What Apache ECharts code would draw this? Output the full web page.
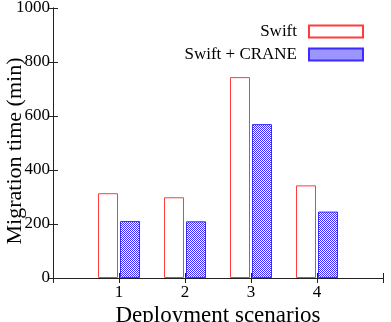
<!DOCTYPE html>
<html>
<head>
<meta charset="utf-8">
<script src="https://cdn.jsdelivr.net/npm/echarts@6/dist/echarts.min.js"></script>
<style>
  html, body { margin: 0; padding: 0; background: #fff; }
  #chart { width: 391px; height: 322px; }
</style>
</head>
<body>
<div id="chart"></div>
<script>
// data
const scenarios = [1, 2, 3, 4]
const swift = [314, 299, 744, 343]
const swiftCrane = [211, 210, 570, 246]
const yTicks = [0, 200, 400, 600, 800, 1000]

const font = 'Liberation Serif'

// crosshatch fill for the CRANE bars
function hatch() {
  const c = document.createElement('canvas')
  c.width = 4
  c.height = 4
  const ctx = c.getContext('2d')
  ctx.fillStyle = '#ffffff'
  ctx.fillRect(0, 0, 4, 4)
  ctx.fillStyle = '#3a2aff'
  for (let x = 0; x < 4; x++) {
    for (let y = 0; y < 4; y++) {
      // two diagonals crossing
      if ((x + y) % 4 === 0 || (x - y + 4) % 4 === 0 || (x + y) % 4 === 2) ctx.fillRect(x, y, 1, 1)
    }
  }
  return c
}

const chart = echarts.init(document.getElementById('chart'))

const tickStyle = { show: true, inside: true, length: 5, lineStyle: { color: '#222' } }
const lineStyle = { show: true, lineStyle: { color: '#222', width: 1 } }
const legendText = { fontFamily: font, fontSize: 17, color: '#000', padding: [0, 7, 0, 0] }

chart.setOption({
  animation: false,
  textStyle: { fontFamily: font },
  grid: { left: 53, right: 8, top: 8, bottom: 44, outerBoundsMode: 'none', containLabel: false },
  legend: [
    {
      data: ['Swift'],
      right: 22, top: 18,
      align: 'right', icon: 'rect',
      itemWidth: 54, itemHeight: 12,
      textStyle: legendText
    },
    {
      data: ['Swift + CRANE'],
      right: 22, top: 41,
      align: 'right', icon: 'rect',
      itemWidth: 54, itemHeight: 12,
      textStyle: legendText
    }
  ],
  xAxis: [
    {
      type: 'value', min: 0, max: 5, interval: 1,
      name: 'Deployment scenarios', nameLocation: 'middle', nameGap: 26, nameMoveOverlap: false,
      nameTextStyle: { fontFamily: font, fontSize: 23, color: '#000' },
      axisLine: lineStyle, axisTick: tickStyle, splitLine: { show: false },
      axisLabel: {
        fontFamily: font, fontSize: 17, color: '#000', margin: 6,
        formatter: v => (scenarios.indexOf(v) >= 0 ? String(v) : '')
      }
    },
    {
      type: 'value', position: 'top', min: 0, max: 5, interval: 1,
      axisLine: lineStyle, axisTick: tickStyle, splitLine: { show: false },
      axisLabel: { show: false }
    }
  ],
  yAxis: [
    {
      type: 'value', min: yTicks[0], max: yTicks[yTicks.length - 1], interval: 200,
      name: 'Migration time (min)', nameLocation: 'middle', nameGap: 27, nameMoveOverlap: false,
      nameTextStyle: { fontFamily: font, fontSize: 22, color: '#000', padding: [0, 16, 0, 0] },
      axisLine: lineStyle, axisTick: tickStyle, splitLine: { show: false },
      axisLabel: { fontFamily: font, fontSize: 17, color: '#000', margin: 3, formatter: v => String(v) }
    },
    {
      type: 'value', position: 'right', min: yTicks[0], max: yTicks[yTicks.length - 1], interval: 200,
      axisLine: lineStyle, axisTick: tickStyle, splitLine: { show: false },
      axisLabel: { show: false }
    }
  ],
  series: [
    {
      name: 'Swift',
      type: 'bar',
      barWidth: 20,
      barGap: '10%',
      data: scenarios.map((s, i) => [s, swift[i]]),
      itemStyle: { color: '#ffffff', borderColor: '#ff3b3b', borderWidth: 1 }
    },
    {
      name: 'Swift + CRANE',
      type: 'bar',
      barWidth: 20,
      barGap: '10%',
      data: scenarios.map((s, i) => [s, swiftCrane[i]]),
      itemStyle: {
        color: { image: hatch(), repeat: 'repeat' },
        borderColor: '#3b2cff', borderWidth: 1
      }
    }
  ]
})
</script>
</body>
</html>
